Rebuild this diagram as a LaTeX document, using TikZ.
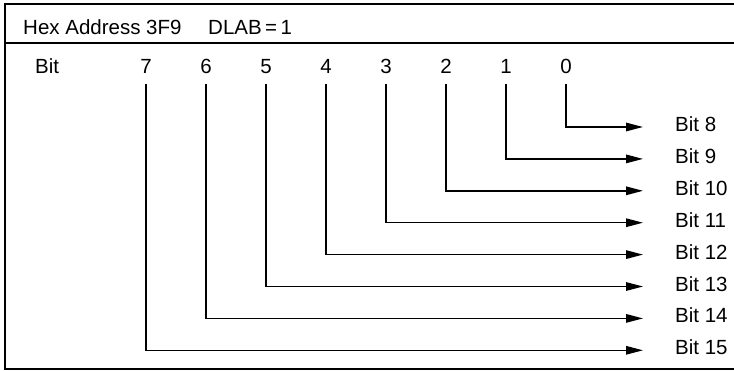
\documentclass[tikz,border=0pt]{standalone}
\usepackage{fontspec}
\setmainfont{Liberation Sans}
\usetikzlibrary{arrows.meta}
\begin{document}
\begin{tikzpicture}[x=1pt,y=-1pt,
  frame/.style={line width=1.3pt},
  conn/.style={line width=1.4pt,-{Triangle[length=17pt,width=8.5pt]}},
  txt/.style={inner sep=0pt,font=\fontsize{20.5}{24}\selectfont}]
\useasboundingbox (0,0) rectangle (734,370);
% frame
\draw[frame] (734,4) -- (5,4) -- (5,369) -- (734,369);
\draw[frame] (5,43) -- (734,43);
% header
\node[txt,anchor=base west] (hex) at (23,34) {Hex Address 3F9};
\node[txt,anchor=base west] (dlab) at (208,34) {DLAB\,=\,1};
\node[txt,anchor=base west] (bit) at (35,73) {Bit};
% bits
\foreach \i in {0,...,7}{
  \pgfmathsetmacro{\xx}{566-60*\i}
  \pgfmathsetmacro{\yy}{127+31.9*\i}
  \pgfmathtruncatemacro{\lab}{\i+8}
  \node[txt,anchor=base] (d\i) at (\xx,73) {\i};
  \coordinate (s\i) at (\xx,84);
  \coordinate (e\i) at (643,\yy);
  \node[txt,anchor=base west] (b\lab) at (675,\yy+4.5) {Bit \lab};
  \draw[conn] (s\i) |- (e\i);
}
\end{tikzpicture}
\end{document}
